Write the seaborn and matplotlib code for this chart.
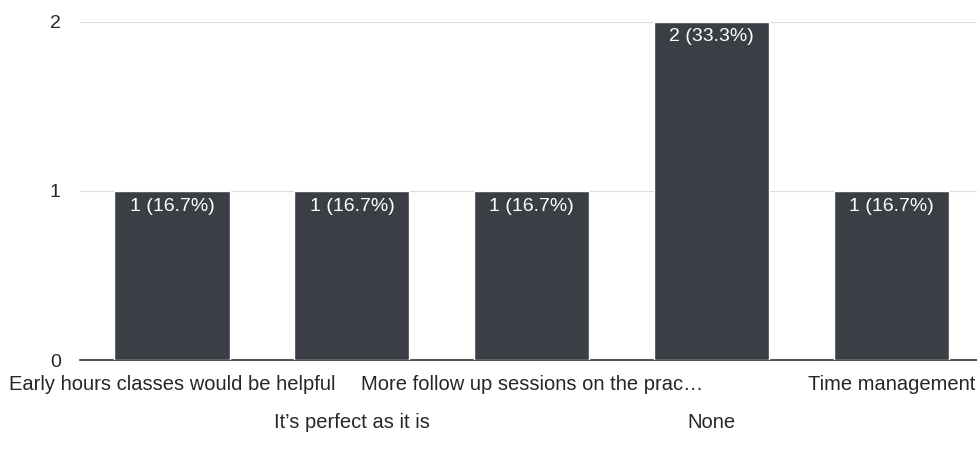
import pandas as pd
import matplotlib.pyplot as plt
import seaborn as sns

# -----------------------------
# Data
# -----------------------------
answers = ["Early hours classes would be helpful",
           "It\u2019s perfect as it is",
           "More follow up sessions on the prac\u2026",
           "None",
           "Time management"]
counts = [1, 1, 1, 2, 1]
y_ticks = [0, 1, 2]

df = pd.DataFrame({"answer": answers, "count": counts})
total = sum(counts)

# Style
sns.set_style("white")
plt.rcParams["font.family"] = ["Liberation Sans", "DejaVu Sans"]

fig = plt.figure(figsize=(9.78, 4.7), dpi=100)
ax = fig.add_axes([0.082, 0.234, 0.918, 0.72])

sns.barplot(x="answer", y="count", data=df, color="#3b3e44",
            saturation=1, width=0.64, ax=ax, zorder=3)

# value labels inside the top of each bar
for i, c in enumerate(counts):
    ax.text(i, c - 0.04, f"{c} ({c / total * 100:.1f}%)",
            ha="center", va="top", color="white", fontsize=14, zorder=4)

ax.set_ylim(0, 2)
ax.set_yticks(y_ticks)
ax.set_yticklabels([str(t) for t in y_ticks], fontsize=14)
ax.yaxis.grid(True, color="#dddddd", linewidth=0.8, zorder=0)
ax.set_xlim(-0.51, len(answers) - 0.52)

ax.set_xlabel("")
ax.set_ylabel("")
ax.tick_params(axis="x", length=0, labelsize=14.5, pad=11)
ax.tick_params(axis="y", length=0, pad=14)

# staggered category labels
for i, tick in enumerate(ax.xaxis.get_major_ticks()):
    if i % 2 == 1:
        tick.set_pad(38)

for side in ["top", "right", "left"]:
    ax.spines[side].set_visible(False)
ax.spines["bottom"].set_color("#333333")
ax.spines["bottom"].set_linewidth(1.2)

plt.savefig("out.png", dpi=100)
